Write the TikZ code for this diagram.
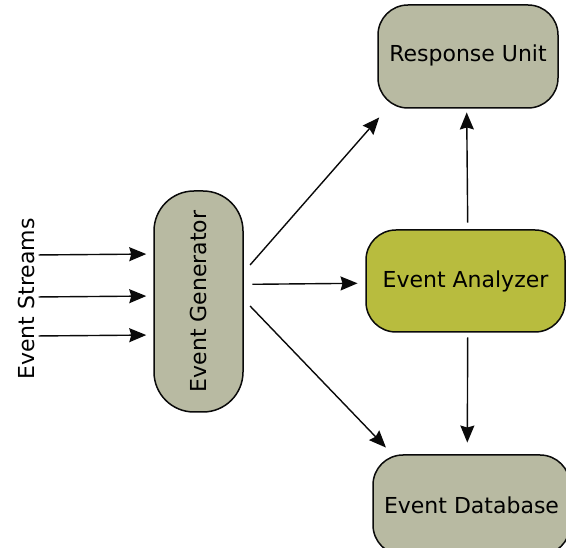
\documentclass[tikz,border=0pt]{standalone}
\usepackage{fontspec}
\setmainfont{DejaVu Sans}
\usetikzlibrary{arrows.meta}
\definecolor{boxgray}{HTML}{B8BAA2}
\definecolor{boxolive}{HTML}{B8BC3E}
\definecolor{edge}{HTML}{0A0A0A}
\tikzset{
  blk/.style={draw=edge, line width=1.5pt, rounded corners=30pt, fill=boxgray,
    inner sep=0pt, font=\fontsize{22}{24}\selectfont},
  arr/.style={draw=edge, line width=1.4pt,
    -{Stealth[length=17pt, width=14pt, inset=2pt]}},
}
\begin{document}
\begin{tikzpicture}[x=1pt, y=-1pt]
  \clip (0,0) rectangle (566,548);
  \fill[white] (0,0) rectangle (566,548);

  % processing blocks
  \node[blk, minimum width=180pt, minimum height=103pt, text depth=6pt] (resp) at (468,56.5) {Response Unit};
  \node[blk, fill=boxolive, minimum width=199pt, minimum height=102pt] (ana) at (465.5,281) {Event Analyzer};
  \node[blk, minimum width=197pt, minimum height=100pt] (db) at (471.5,505) {Event Database};
  \node[blk, rounded corners=40pt, minimum width=89pt, minimum height=221pt] (gen) at (198.5,301.5) {};
  \node[rotate=90, font=\fontsize{22}{24}\selectfont] at (gen.center) {Event Generator};

  % incoming streams
  \node[rotate=90, inner sep=0pt, font=\fontsize{22}{24}\selectfont] (streams) at (26,299) {Event Streams};
  \draw[arr, shorten <=4pt, shorten >=7pt] ([yshift=44pt]streams.south) -- ([yshift=47.5pt]gen.west);
  \draw[arr, shorten <=4pt, shorten >=7pt] ([yshift=2pt]streams.south) -- ([yshift=5.5pt]gen.west);
  \draw[arr, shorten <=4pt, shorten >=7pt] ([yshift=-37pt]streams.south) -- ([yshift=-33.5pt]gen.west);

  % generator outputs
  \draw[arr] ([xshift=6.3pt, yshift=36.5pt]gen.east) -- ([xshift=2pt, yshift=-8.7pt]resp.south west);
  \draw[arr] ([xshift=8.7pt, yshift=17.2pt]gen.east) -- ([xshift=-7.7pt, yshift=-2.3pt]ana.west);
  \draw[arr] ([xshift=6.3pt, yshift=-4.5pt]gen.east) -- ([xshift=13.7pt, yshift=6.7pt]db.north west);

  % analyzer outputs
  \draw[arr] ([xshift=2.2pt, yshift=6.7pt]ana.north) -- ([xshift=-1.3pt, yshift=-3.7pt]resp.south);
  \draw[arr] ([xshift=2.2pt, yshift=-4.7pt]ana.south) -- ([xshift=-4.2pt, yshift=11.7pt]db.north);
\end{tikzpicture}
\end{document}
